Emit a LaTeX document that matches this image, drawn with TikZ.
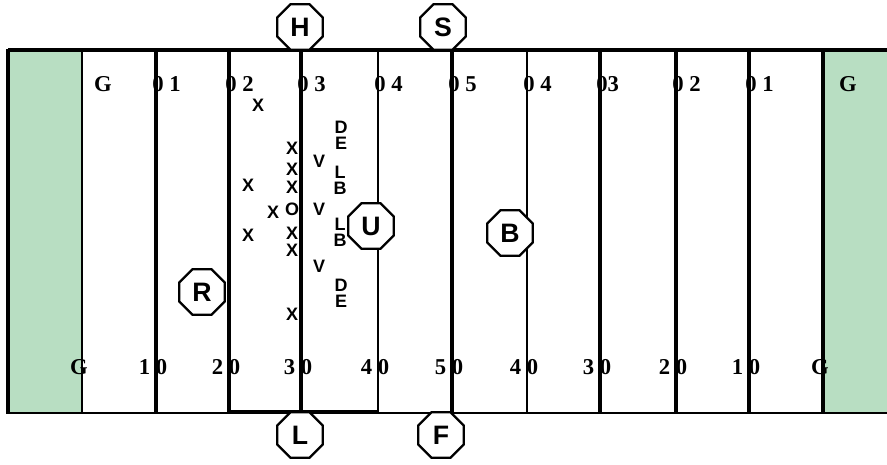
\documentclass[tikz,border=0pt]{standalone}
\usepackage{fontspec}
\setmainfont{Liberation Serif}
\setsansfont{Liberation Sans}
\usetikzlibrary{shapes.geometric}
\definecolor{fieldgreen}{RGB}{184,222,194}

\begin{document}
\begin{tikzpicture}[x=0.75pt,y=-0.75pt,
  yardnum/.style={inner sep=0pt,font=\fontsize{17}{17}\selectfont\bfseries},
  player/.style={inner sep=0pt,text height=9.6pt,text depth=0pt,
    font=\sffamily\bfseries\fontsize{13.5}{13.5}\selectfont},
  official/.style={draw,fill=white,line width=1.8pt,regular polygon,regular polygon sides=8,
    minimum size=37pt,inner sep=0pt,font=\sffamily\bfseries\fontsize{20}{20}\selectfont},
  bigline/.style={line width=3pt},
  smallline/.style={line width=1.4pt}]
  \useasboundingbox (0,0) rectangle (887,464);
  % End zones
  \fill[fieldgreen] (8,50) rectangle (82,413);
  \fill[fieldgreen] (823,50) rectangle (887,413);
  % Yard numbers (lines go over them)
  \node[yardnum] (gtl) at (103,84) {G};
  \node[yardnum] (gtr) at (848,84) {G};
  \foreach \x/\t [count=\i] in {156/0 1,229/0 2,301/0 3,378/0 4,452/0 5,527/0 4,600/03,676/0 2,749/0 1}
    \node[yardnum,anchor=west] (top\i) at (\x-4,84) {\t};
  \foreach \x/\t [count=\i] in {82/G,156/1 0,229/2 0,301/3 0,378/4 0,452/5 0,527/4 0,600/3 0,676/2 0,749/1 0,823/G}
    \node[yardnum] (bot\i) at (\x-3,367) {\t};
  % Field
  \draw[bigline] (8,50) -- (887,50);
  \draw[line width=2.2pt] (8,413) -- (887,413);
  \draw[bigline] (8,48.5) -- (8,414);
  \foreach \x in {156,229,301,452,600,676,749,823}
    \draw[bigline] (\x,50) -- (\x,413);
  \foreach \x in {82,378,527}
    \draw[smallline] (\x,50) -- (\x,413);
  \draw[smallline] (229,50) rectangle (378,411);
  % Offense
  \node[player] (x1) at (258,105) {X};
  \node[player] (x2) at (292,148) {X};
  \node[player] (x3) at (292,169) {X};
  \node[player] (x4) at (248,185) {X};
  \node[player] (x5) at (292,187) {X};
  \node[player] (x6) at (273,212) {X};
  \node[player] (ctr) at (292,209) {O};
  \node[player] (x7) at (248,235) {X};
  \node[player] (x8) at (292,233) {X};
  \node[player] (x9) at (292,250) {X};
  \node[player] (x10) at (292,314) {X};
  % Defense
  \node[player] (v1) at (319,161) {V};
  \node[player] (v2) at (319,209) {V};
  \node[player] (v3) at (319,266) {V};
  \node[player] (d1) at (341,127) {D};
  \node[player] (e1) at (341,143) {E};
  \node[player] (l1) at (340,172) {L};
  \node[player] (b1) at (340,188) {B};
  \node[player] (l2) at (340,224) {L};
  \node[player] (b2) at (340,240) {B};
  \node[player] (d2) at (341,285) {D};
  \node[player] (e2) at (341,301) {E};
  % Officials
  \node[official] (head) at (300,27) {H};
  \node[official] (side) at (443,27) {S};
  \node[official] (ump) at (371,226) {U};
  \node[official] (back) at (510,233) {B};
  \node[official] (ref) at (202,292) {R};
  \node[official] (line) at (300,435) {L};
  \node[official] (field) at (441,435) {F};
\end{tikzpicture}
\end{document}
